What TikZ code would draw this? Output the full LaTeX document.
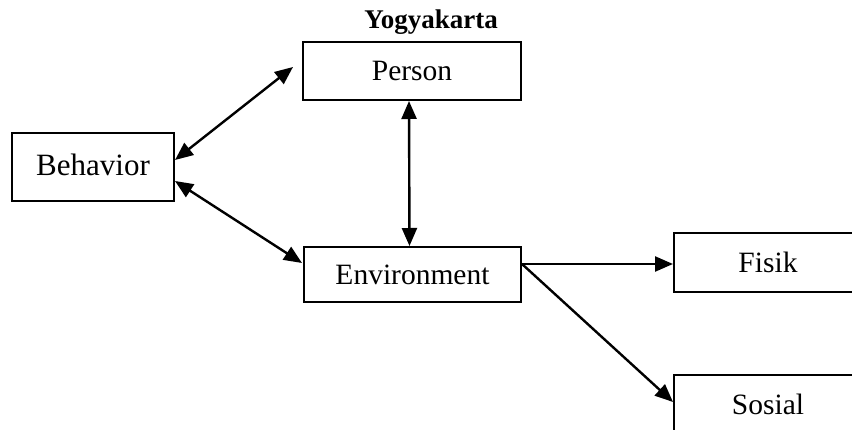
\documentclass[tikz,border=0pt]{standalone}
\usepackage{fontspec}
\setmainfont{Liberation Serif}
\usetikzlibrary{arrows.meta}
\begin{document}
\begin{tikzpicture}[x=1pt,y=1pt,
  box/.style={draw, line width=2pt, inner sep=0pt, font=\fontsize{29.5}{34}\selectfont},
  link/.style={line width=2.4pt, -{Triangle[length=18pt,width=15pt]}},
  biarrow/.style={line width=2.4pt, {Triangle[length=18pt,width=15pt]}-{Triangle[length=18pt,width=15pt]}}]
\useasboundingbox (0,0) rectangle (852,-430);
\clip (0,0) rectangle (852,-430);
\node[font=\bfseries\fontsize{27}{32}\selectfont, anchor=base] (title) at (431,-29) {Yogyakarta};
\node[box, minimum width=218pt, minimum height=58pt] (person) at (412,-71) {Person};
\node[box, minimum width=162pt, minimum height=68pt, font=\fontsize{31}{36}\selectfont, text depth=4pt] (behavior) at (93,-167) {Behavior};
\node[box, minimum width=217pt, minimum height=55pt] (env) at (412.5,-274.5) {Environment};
\node[box, minimum width=188pt, minimum height=59pt] (fisik) at (768,-262.5) {Fisik};
\node[box, minimum width=188pt, minimum height=58pt] (sosial) at (768,-404) {Sosial};
\draw[biarrow] ([yshift=7pt]behavior.east) -- ([xshift=-9pt,yshift=4pt]person.west);
\draw[biarrow] ([yshift=-14pt]behavior.east) -- ([xshift=-1pt,yshift=11.5pt]env.west);
\draw[biarrow] ([xshift=-3pt]person.south) -- ([xshift=-3pt]env.north);
\draw[link] ([yshift=10.5pt]env.east) -- ([yshift=-1.5pt]fisik.west);
\draw[link] ([yshift=10.5pt]env.east) -- ([yshift=2pt]sosial.west);
\end{tikzpicture}
\end{document}
